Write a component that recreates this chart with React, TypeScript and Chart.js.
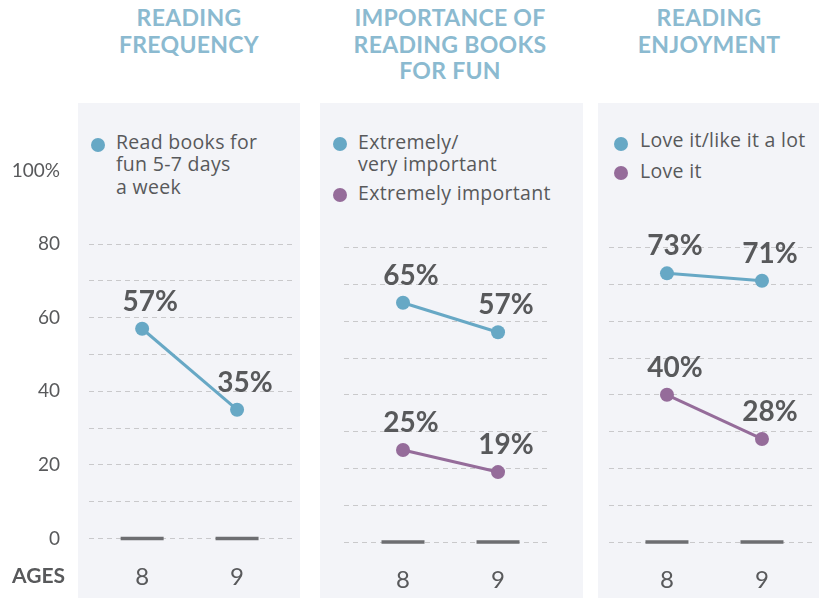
import React, { useEffect, useRef } from 'react';
import { Chart, registerables } from 'chart.js';

Chart.register(...registerables);

// ---------- data ----------
const ages = [8, 9];
const baseline = [0, 0];
const yTickValues = [0, 20, 40, 60, 80, 100];
const yTickLabels = ['0', '20', '40', '60', '80', '100%'];
const gridMax = 80;

const freqLabels = ['Read books for\nfun 5-7 days\na week'];
const freqReadForFun = [57, 35];

const importanceLabels = ['Extremely/\nvery important', 'Extremely important'];
const importanceExtremelyVery = [65, 57];
const importanceExtremely = [25, 19];

const enjoymentLabels = ['Love it/like it a lot', 'Love it'];
const enjoymentLoveLikeLot = [73, 71];
const enjoymentLoveIt = [40, 28];

const panelTitles = [
  ['READING', 'FREQUENCY'],
  ['IMPORTANCE OF', 'READING BOOKS', 'FOR FUN'],
  ['READING', 'ENJOYMENT'],
];
const axisTitle = 'AGES';

// ---------- styles ----------
const FONT = 'Lato, "Open Sans", "DejaVu Sans", sans-serif';
const LEGEND_FONT = '"Open Sans", Lato, sans-serif';
const BLUE = '#67a8c5';
const PURPLE = '#956c9a';
const TEXT = '#58595b';
const TITLE = '#8bbad0';
const PANEL_BG = '#f3f4f8';
const GRID = '#c9c9cb';
const MARK = '#6d6e71';

const valueLabelPlugin = {
  id: 'valueLabels',
  afterDatasetsDraw(chart: any) {
    const ctx = chart.ctx;
    ctx.save();
    ctx.font = `bold 28px ${FONT}`;
    ctx.fillStyle = TEXT;
    ctx.textAlign = 'center';
    ctx.textBaseline = 'alphabetic';
    chart.data.datasets.forEach((ds: any, di: number) => {
      if (!ds.showValues) return;
      const meta = chart.getDatasetMeta(di);
      meta.data.forEach((pt: any, i: number) => {
        const v = ds.data[i].y;
        ctx.fillText(`${v}%`, pt.x + 8, pt.y - 18);
      });
    });
    ctx.restore();
  },
};

type PanelCfg = {
  left: number; top: number; width: number; height: number;
  yAxisWidth: number; padTop: number; padRight: number; xAxisHeight: number;
  xMin: number; xMax: number; showY: boolean;
  series: { values: number[]; color: string }[];
};

function toPoints(vals: number[]) {
  return ages.map((a, i) => ({ x: a, y: vals[i] }));
}

function PanelChart({ cfg }: { cfg: PanelCfg }) {
  const ref = useRef<HTMLCanvasElement | null>(null);
  useEffect(() => {
    if (!ref.current) return;
    const datasets: any[] = [
      {
        data: toPoints(baseline),
        showLine: false,
        clip: false,
        pointStyle: 'line',
        pointRadius: 21.5,
        pointHoverRadius: 21.5,
        pointBorderWidth: 3.5,
        pointBorderColor: MARK,
        borderColor: MARK,
      },
      ...cfg.series.map((s) => ({
        data: toPoints(s.values),
        clip: false,
        borderColor: s.color,
        backgroundColor: s.color,
        borderWidth: 3,
        pointRadius: 7,
        pointHoverRadius: 7,
        pointBorderWidth: 0,
        pointBackgroundColor: s.color,
        tension: 0,
        showValues: true,
      })),
    ];
    const chart = new Chart(ref.current, {
      type: 'line',
      data: { datasets },
      plugins: [valueLabelPlugin],
      options: {
        responsive: false,
        animation: false,
        events: [],
        layout: { autoPadding: false, padding: { top: cfg.padTop, right: cfg.padRight, left: 0, bottom: 0 } },
        plugins: { legend: { display: false }, tooltip: { enabled: false }, title: { display: false } },
        scales: {
          x: {
            type: 'linear',
            min: cfg.xMin,
            max: cfg.xMax,
            grid: { display: false },
            border: { display: false },
            afterBuildTicks: (s: any) => { s.ticks = ages.map((v) => ({ value: v })); },
            afterFit: (s: any) => { s.height = cfg.xAxisHeight; },
            ticks: {
              padding: 16,
              autoSkip: false,
              maxRotation: 0,
              color: TEXT,
              font: { family: FONT, size: 24 },
              callback: (v: any) => String(v),
            },
          },
          y: {
            min: 0,
            max: 100,
            afterFit: (s: any) => { s.width = cfg.yAxisWidth; },
            grid: {
              drawTicks: false,
              lineWidth: 1,
              color: (c: any) => (c.tick && c.tick.value <= gridMax ? GRID : 'rgba(0,0,0,0)'),
            },
            border: { display: false, dash: [5, 4] },
            ticks: {
              display: cfg.showY,
              stepSize: 10,
              autoSkip: false,
              padding: 29,
              color: TEXT,
              font: { family: FONT, size: 19 },
              callback: (v: any) => {
                const i = yTickValues.indexOf(v);
                return i >= 0 ? yTickLabels[i] : '';
              },
            },
          },
        },
      } as any,
    });
    return () => chart.destroy();
  }, []);
  return (
    <canvas
      ref={ref}
      width={cfg.width}
      height={cfg.height}
      style={{ position: 'absolute', left: cfg.left, top: cfg.top, width: cfg.width, height: cfg.height }}
    />
  );
}

function Title({ lines, center }: { lines: string[]; center: number }) {
  return (
    <div
      style={{
        position: 'absolute', left: center - 150, width: 300, top: 4, textAlign: 'center',
        font: `bold 23px/26.5px ${FONT}`, color: TITLE, letterSpacing: 0.3,
      }}
    >
      {lines.map((l, i) => (<div key={i}>{l}</div>))}
    </div>
  );
}

function LegendItem({ text, color, dotX, dotY, textX, baseline }: any) {
  // line-height 22.7, Open Sans 19.5px: baseline ≈ 19.5 from the line-box top
  return (
    <>
      <div style={{ position: 'absolute', left: dotX - 7, top: dotY - 7, width: 14, height: 14, borderRadius: 7, background: color }} />
      <div style={{ position: 'absolute', left: textX, top: baseline - 19.5, font: `19.5px/22.7px ${LEGEND_FONT}`, letterSpacing: 0.3, color: TEXT, whiteSpace: 'pre' }}>{text}</div>
    </>
  );
}

export default function App() {
  const panels: PanelCfg[] = [
    {
      left: 0, top: 100, width: 300, height: 498,
      yAxisWidth: 89, padTop: 70.5, padRight: 6, xAxisHeight: 59.5,
      xMin: 7.44, xMax: 9.6, showY: true,
      series: [{ values: freqReadForFun, color: BLUE }],
    },
    {
      left: 300, top: 100, width: 283, height: 498,
      yAxisWidth: 44, padTop: 74, padRight: 33, xAxisHeight: 56,
      xMin: 7.379, xMax: 9.547, showY: false,
      series: [
        { values: importanceExtremelyVery, color: BLUE },
        { values: importanceExtremely, color: PURPLE },
      ],
    },
    {
      left: 583, top: 100, width: 236, height: 498,
      yAxisWidth: 26, padTop: 74, padRight: 4, xAxisHeight: 56,
      xMin: 7.39, xMax: 9.558, showY: false,
      series: [
        { values: enjoymentLoveLikeLot, color: BLUE },
        { values: enjoymentLoveIt, color: PURPLE },
      ],
    },
  ];
  return (
    <div style={{ position: 'fixed', left: 0, top: 0, width: 819, height: 598, background: '#fff', overflow: 'hidden', fontFamily: FONT }}>
      <div style={{ position: 'absolute', left: 78, top: 103, width: 222, height: 495, background: PANEL_BG }} />
      <div style={{ position: 'absolute', left: 320, top: 103, width: 263, height: 495, background: PANEL_BG }} />
      <div style={{ position: 'absolute', left: 598, top: 103, width: 221, height: 495, background: PANEL_BG }} />

      <Title lines={panelTitles[0]} center={189} />
      <Title lines={panelTitles[1]} center={450} />
      <Title lines={panelTitles[2]} center={709} />

      <LegendItem text={freqLabels[0]} color={BLUE} dotX={98} dotY={145} textX={116} baseline={150} />
      <LegendItem text={importanceLabels[0]} color={BLUE} dotX={340} dotY={144} textX={358} baseline={150} />
      <LegendItem text={importanceLabels[1]} color={PURPLE} dotX={340} dotY={195} textX={358} baseline={201} />
      <LegendItem text={enjoymentLabels[0]} color={BLUE} dotX={621} dotY={143.5} textX={640} baseline={148} />
      <LegendItem text={enjoymentLabels[1]} color={PURPLE} dotX={621} dotY={173} textX={640} baseline={179} />

      {panels.map((p, i) => (<PanelChart key={i} cfg={p} />))}

      <div style={{ position: 'absolute', left: 12, top: 563, font: `bold 21px/24px ${FONT}`, color: TEXT }}>{axisTitle}</div>
    </div>
  );
}
